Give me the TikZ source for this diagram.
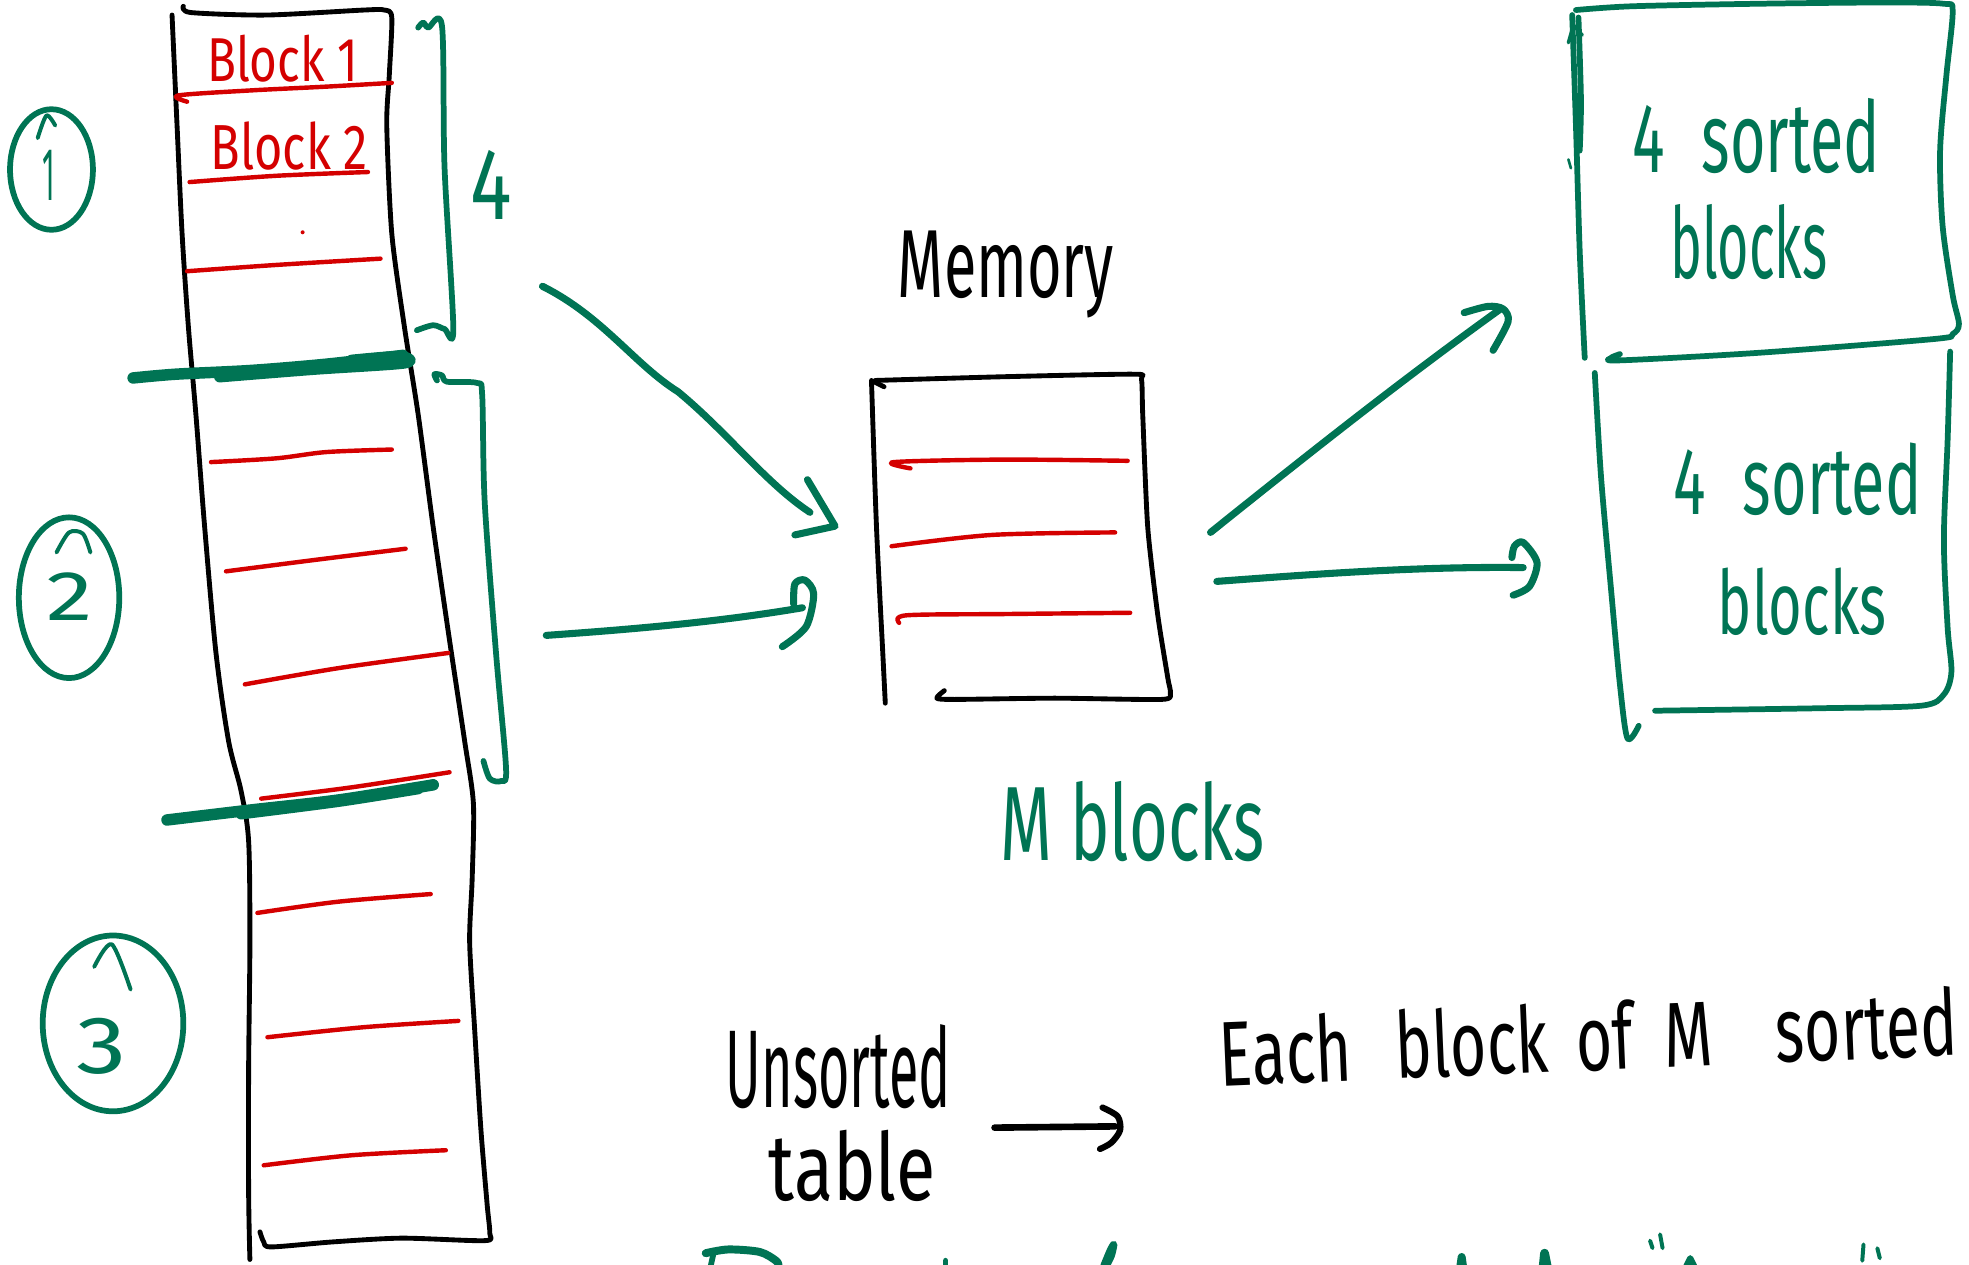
\documentclass[tikz,border=0pt]{standalone}
\usepackage{fontspec}
\setmainfont{Fira Sans}
\usepackage{graphicx}
\definecolor{inkgreen}{RGB}{0,116,84}
\definecolor{inkred}{RGB}{212,0,0}
% squeeze a word into a given width and cap height, like a handwritten label
\newcommand\hwtext[3]{\resizebox{#1}{#2}{#3}}

\begin{document}
\begin{tikzpicture}[x=0.01cm,y=-0.01cm]
\tikzset{
  blk/.style={draw=black, line width=1.1pt, line cap=round, line join=round},
  redl/.style={draw=inkred, line width=1pt, line cap=round, line join=round},
  grn/.style={draw=inkgreen, line width=1.3pt, line cap=round, line join=round},
  grnarrow/.style={draw=inkgreen, line width=1.6pt, line cap=round, line join=round},
  grnthick/.style={draw=inkgreen, line width=2.6pt, line cap=round, line join=round},
  lbl/.style={anchor=base west, inner sep=0pt, outer sep=0pt},
}
\useasboundingbox (0,0) rectangle (1568,1007);
\fill[white] (0,0) rectangle (1568,1007);

% ---------------- the unsorted table (tall column) ----------------
\draw[blk] plot[smooth, tension=.45] coordinates {(146,5) (152,10) (212,12) (290,8) (306,8) (312,14)
  (310,60) (308,100) (312,186) (322,260) (333,330) (345,420) (358,510) (370,590) (377,640)
  (376,700) (374,750) (378,820) (383,900) (388,960) (390,982) (386,988) (320,986) (265,989)
  (216,993) (210,989) (207,981)};
\draw[blk] plot[smooth, tension=.5] coordinates {(137,12) (141,100) (145,186) (150,260) (156,330)
  (163,420) (172,520) (182,590) (192,630) (198,670) (199,750) (198,850) (198,950) (199,1003)};

% block rows
\draw[redl] plot[smooth] coordinates {(149,81) (142,76) (200,72) (260,69) (312,66)};
\draw[redl] plot[smooth] coordinates {(151,145) (220,140) (293,137)};
\fill[inkred] (241,185) circle (1.6);
\draw[redl] plot[smooth] coordinates {(149,216) (220,211) (303,206)};
\draw[redl] (157,297) -- (320,285);
\draw[redl] plot[smooth] coordinates {(168,368) (220,365) (260,360) (312,358)};
\draw[redl] plot[smooth] coordinates {(180,455) (250,446) (323,437)};
\draw[redl] plot[smooth] coordinates {(195,545) (270,532) (357,520)};
\draw[redl] plot[smooth] coordinates {(208,636) (280,627) (358,615)};
\draw[redl] plot[smooth] coordinates {(205,727) (270,718) (343,712)};
\draw[redl] plot[smooth] coordinates {(213,826) (290,818) (365,813)};
\draw[redl] plot[smooth] coordinates {(210,928) (280,920) (355,916)};

\node[lbl, text=inkred] (blk1) at (165,65) {\hwtext{1.20cm}{0.37cm}{Block 1}};
\node[lbl, text=inkred] (blk2) at (168,135) {\hwtext{1.25cm}{0.38cm}{Block 2}};

% green separators between the runs
\draw[grnthick] plot[smooth] coordinates {(106,301) (140,298) (200,295) (260,290) (321,283)};
\draw[grnthick] plot[smooth] coordinates {(175,300) (250,294) (322,289) (318,284) (280,287)};
\draw[grnthick] plot[smooth] coordinates {(133,653) (200,645) (270,637) (345,625)};
\draw[grnthick] plot[smooth] coordinates {(192,648) (270,638) (333,628)};

% brackets
\draw[grn] plot[smooth, tension=.5] coordinates {(333,22) (337,18) (341,22) (352,21) (354,133)
  (361,262) (354,262) (345,259) (332,263)};
\node[lbl, text=inkgreen] (four) at (375,175) {\hwtext{0.33cm}{0.55cm}{4}};
\draw[grn] plot[smooth, tension=.5] coordinates {(348,303) (346,298) (352,299) (356,304) (380,305)
  (384,315) (386,400) (395,520) (403,612) (399,622) (390,620) (385,606)};

% circled run numbers
\draw[grn] (41,135) ellipse [x radius=33, y radius=48];
\draw[grn, line width=.9pt] plot[smooth] coordinates {(30,110) (37,92) (44,100)};
\node[lbl, text=inkgreen] (n1) at (34,160) {\hwtext{0.10cm}{0.40cm}{1}};
\draw[grn] (55,476) ellipse [x radius=40, y radius=64];
\draw[grn, line width=.9pt] plot[smooth] coordinates {(45,440) (55,424) (66,425) (72,440)};
\node[lbl, text=inkgreen] (n2) at (37,494) {\hwtext{0.37cm}{0.38cm}{2}};
\draw[grn] (90,815) ellipse [x radius=56, y radius=70];
\draw[grn, line width=.9pt] plot[smooth] coordinates {(75,770) (89,752) (104,788)};
\node[lbl, text=inkgreen] (n3) at (61,855) {\hwtext{0.40cm}{0.44cm}{3}};

% ---------------- memory ----------------
\node[lbl] (memlbl) at (715,237) {\hwtext{1.72cm}{0.53cm}{Memory}};
\draw[blk] plot[smooth, tension=.4] coordinates {(697,303) (800,300) (903,298) (909,302) (910,330)
  (914,420) (922,490) (930,540) (932,552) (925,557) (840,556) (760,557) (746,556) (752,550)};
\draw[blk] plot[smooth] coordinates {(694,303) (698,420) (703,520) (705,560)};
\draw[blk] (696,304) -- (704,308);
\draw[redl] plot[smooth] coordinates {(725,373) (712,368) (800,366) (898,367)};
\draw[redl] plot[smooth] coordinates {(710,435) (790,426) (888,424)};
\draw[redl] plot[smooth] coordinates {(716,496) (722,490) (800,489) (900,488)};
\node[lbl, text=inkgreen] (mblk) at (797,685) {\hwtext{2.10cm}{0.63cm}{M blocks}};

% ---------------- sorted runs on the right ----------------
\draw[grn] plot[smooth, tension=.5] coordinates {(1255,8) (1300,5) (1400,3) (1500,2) (1548,3)
  (1555,9) (1550,60) (1545,120) (1547,180) (1555,235) (1560,258) (1555,266) (1540,270)
  (1400,281) (1290,287) (1283,285) (1290,282)};
\draw[grn] plot[smooth] coordinates {(1252,12) (1255,100) (1258,200) (1262,285)};
\draw[grn] plot[smooth] coordinates {(1257,14) (1259,80) (1258,120)};
\draw[grn, line width=.8pt] (1249,34) -- (1253,20) -- (1260,28);
\draw[grn, line width=.6pt] (1249,127) -- (1251,134);
\node[lbl, text=inkgreen] (s1a) at (1300,137) {\hwtext{1.97cm}{0.59cm}{4\hspace{.6em}sorted}};
\node[lbl, text=inkgreen] (s1b) at (1330,222) {\hwtext{1.25cm}{0.59cm}{blocks}};

\draw[grn] plot[smooth, tension=.5] coordinates {(1270,297) (1275,380) (1283,470) (1290,545)
  (1296,588) (1305,578)};
\draw[grn] plot[smooth, tension=.5] coordinates {(1553,280) (1551,350) (1548,430) (1551,500)
  (1554,535) (1548,553) (1530,562) (1450,564) (1318,566)};
\node[lbl, text=inkgreen] (s2a) at (1333,410) {\hwtext{1.97cm}{0.57cm}{4\hspace{.6em}sorted}};
\node[lbl, text=inkgreen] (s2b) at (1368,505) {\hwtext{1.34cm}{0.53cm}{blocks}};

% ---------------- arrows ----------------
\coordinate (a1s) at (432,228);
\coordinate (a1e) at (665,419);
\draw[grnarrow] (a1s) .. controls (480,252) and (505,290) .. (540,312)
  .. controls (580,345) and (610,385) .. (645,408);
\draw[grnarrow] (643,382) -- (a1e) -- (633,426);

\coordinate (a2s) at (435,506);
\coordinate (a2e) at (639,484);
\draw[grnarrow] (a2s) .. controls (520,500) and (580,494) .. (a2e);
\draw[grnarrow] plot[smooth] coordinates {(632,481) (633,465) (641,462) (648,473) (642,499) (623,515)};

\coordinate (a3s) at (964,424);
\coordinate (a3e) at (1195,246);
\draw[grnarrow] (a3s) .. controls (1050,355) and (1120,300) .. (a3e);
\draw[grnarrow] plot[smooth] coordinates {(1166,249) (1185,244) (1197,246) (1201,256) (1189,279)};

\coordinate (a4s) at (969,463);
\coordinate (a4e) at (1213,452);
\draw[grnarrow] (a4s) .. controls (1050,457) and (1130,451) .. (a4e);
\draw[grnarrow] plot[smooth] coordinates {(1204,444) (1206,435) (1213,432) (1224,448) (1218,467) (1205,474)};

% ---------------- note at the bottom ----------------
\node[lbl] (uns) at (578,882) {\hwtext{1.79cm}{0.66cm}{Unsorted}};
\node[lbl] (tbl) at (612,956) {\hwtext{1.33cm}{0.56cm}{table}};
\coordinate (a5s) at (792,898);
\coordinate (a5e) at (888,897);
\draw[blk, line width=1.5pt] (a5s) -- (a5e);
\draw[blk, line width=1.4pt] plot[smooth] coordinates {(878,882) (890,889) (892,900) (885,910) (876,915)};
\node[lbl, rotate=2.4] (each) at (972,865)
  {\hwtext{5.88cm}{0.55cm}{Each\hspace{.7em}block\hspace{.45em}of\hspace{.5em}M\hspace{1em}sorted}};

% tops of the next line of writing
\draw[grn] (566,1008) -- (568,999);
\draw[grn, line width=1.8pt] plot[smooth] coordinates {(562,998) (580,995) (605,997) (618,1004) (620,1008)};
\draw[grn] (753,1004) -- (753,1008);
\draw[grn, line width=1.6pt] plot[smooth] coordinates {(879,1008) (884,996) (887,991) (885,1000) (881,1008)};
\draw[grn, line width=1.8pt] (1163,1008) -- (1164,1001) -- (1165,1008);
\draw[grn, line width=2pt] (1229,1008) -- (1230,998) -- (1232,1008);
\draw[grn, line width=.9pt] (1314,988) -- (1316,994);
\draw[grn, line width=.9pt] (1322,983) -- (1324,994);
\draw[grn, line width=1.4pt] (1343,1008) -- (1346,1002) -- (1349,1008);
\draw[grn, line width=.9pt] (1484,991) -- (1483,1004);
\draw[grn, line width=.9pt] (1495,994) -- (1497,1002);
\end{tikzpicture}
\end{document}
